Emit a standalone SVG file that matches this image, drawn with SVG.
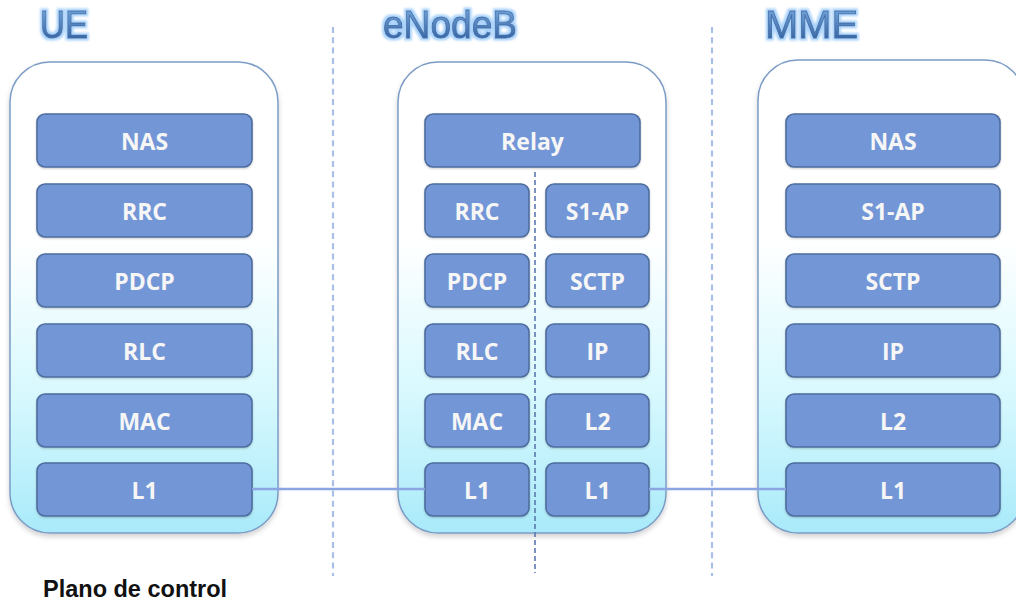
<svg xmlns="http://www.w3.org/2000/svg" width="1016" height="601" viewBox="0 0 1016 601">
<defs>
<linearGradient id="cont" x1="0" y1="0" x2="0" y2="1">
<stop offset="0" stop-color="#ffffff"/>
<stop offset="0.38" stop-color="#ffffff"/>
<stop offset="0.7" stop-color="#d8f9fe"/>
<stop offset="1" stop-color="#a9eafa"/>
</linearGradient>
<linearGradient id="title" x1="0" y1="0" x2="0" y2="1">
<stop offset="0" stop-color="#7eaee2"/>
<stop offset="1" stop-color="#2b5897"/>
</linearGradient>
<filter id="sh" x="-10%" y="-10%" width="120%" height="120%">
<feDropShadow dx="0" dy="3" stdDeviation="2.5" flood-color="#000" flood-opacity="0.18"/>
</filter>
<filter id="bsh" x="-10%" y="-20%" width="120%" height="140%">
<feDropShadow dx="0" dy="1" stdDeviation="1" flood-color="#000" flood-opacity="0.2"/>
</filter>
<filter id="glow" x="-20%" y="-20%" width="140%" height="140%">
<feMorphology in="SourceAlpha" operator="dilate" radius="2" result="d"/>
<feGaussianBlur in="d" stdDeviation="1.2" result="b"/>
<feFlood flood-color="#a9d2fa"/>
<feComposite in2="b" operator="in" result="g"/>
<feMerge><feMergeNode in="g"/><feMergeNode in="SourceGraphic"/></feMerge>
</filter>
</defs>
<style>
.cont{fill:url(#cont);stroke:#7c9cc6;stroke-width:1.5;filter:url(#sh)}
.box{fill:#7396d6;stroke:#4e6d9e;stroke-width:1.6;filter:url(#bsh)}
.bt{font-family:"Open Sans","Noto Sans",sans-serif;font-weight:700;font-size:23px;fill:#f6f6f6;text-anchor:middle}
.ttl{font-family:"Liberation Sans",Arial,sans-serif;font-size:38px;fill:url(#title);stroke:#3f6eaa;stroke-width:0.8;filter:url(#glow)}
.sep{stroke:#a9bfea;stroke-width:2.2;stroke-dasharray:6 4.3;fill:none}
.isep{stroke:#5a78ae;stroke-width:1.6;stroke-dasharray:5 3;fill:none}
.conn{stroke:#8ba4e2;stroke-width:2.5;fill:none}
.cap{font-family:"Liberation Sans",Arial,sans-serif;font-weight:700;font-size:23.5px;fill:#111}
</style>

<g id="separators">
<line class="sep" x1="333" y1="27" x2="333" y2="576"/>
<line class="sep" x1="712" y1="27" x2="712" y2="576"/>
</g>

<g id="titles">
<text class="ttl" x="40" y="38" textLength="48" lengthAdjust="spacingAndGlyphs">UE</text>
<text class="ttl" x="383" y="38" textLength="134" lengthAdjust="spacingAndGlyphs">eNodeB</text>
<text class="ttl" x="765" y="38" textLength="93" lengthAdjust="spacingAndGlyphs">MME</text>
</g>

<g id="ue">
<rect class="cont" x="10" y="62" width="268" height="471" rx="40"/>
<rect class="box" x="37" y="114" width="215" height="53" rx="8"/><text class="bt" x="144.5" y="150">NAS</text>
<rect class="box" x="37" y="184" width="215" height="53" rx="8"/><text class="bt" x="144.5" y="220">RRC</text>
<rect class="box" x="37" y="254" width="215" height="53" rx="8"/><text class="bt" x="144.5" y="290">PDCP</text>
<rect class="box" x="37" y="324" width="215" height="53" rx="8"/><text class="bt" x="144.5" y="360">RLC</text>
<rect class="box" x="37" y="394" width="215" height="53" rx="8"/><text class="bt" x="144.5" y="430">MAC</text>
<rect class="box" x="37" y="463" width="215" height="53" rx="8"/><text class="bt" x="144.5" y="499">L1</text>
</g>

<g id="enodeb">
<rect class="cont" x="398" y="62" width="268" height="471" rx="40"/>
<line class="isep" x1="535" y1="172" x2="535" y2="573"/>
<rect class="box" x="425" y="114" width="215" height="53" rx="8"/><text class="bt" x="532.5" y="150">Relay</text>
<rect class="box" x="425" y="184" width="104" height="53" rx="8"/><text class="bt" x="477" y="220">RRC</text>
<rect class="box" x="546" y="184" width="103" height="53" rx="8"/><text class="bt" x="597.5" y="220">S1-AP</text>
<rect class="box" x="425" y="254" width="104" height="53" rx="8"/><text class="bt" x="477" y="290">PDCP</text>
<rect class="box" x="546" y="254" width="103" height="53" rx="8"/><text class="bt" x="597.5" y="290">SCTP</text>
<rect class="box" x="425" y="324" width="104" height="53" rx="8"/><text class="bt" x="477" y="360">RLC</text>
<rect class="box" x="546" y="324" width="103" height="53" rx="8"/><text class="bt" x="597.5" y="360">IP</text>
<rect class="box" x="425" y="394" width="104" height="53" rx="8"/><text class="bt" x="477" y="430">MAC</text>
<rect class="box" x="546" y="394" width="103" height="53" rx="8"/><text class="bt" x="597.5" y="430">L2</text>
<rect class="box" x="425" y="463" width="104" height="53" rx="8"/><text class="bt" x="477" y="499">L1</text>
<rect class="box" x="546" y="463" width="103" height="53" rx="8"/><text class="bt" x="597.5" y="499">L1</text>
</g>

<g id="mme">
<rect class="cont" x="758" y="60" width="267" height="473" rx="40"/>
<rect class="box" x="786" y="114" width="214" height="53" rx="8"/><text class="bt" x="893" y="150">NAS</text>
<rect class="box" x="786" y="184" width="214" height="53" rx="8"/><text class="bt" x="893" y="220">S1-AP</text>
<rect class="box" x="786" y="254" width="214" height="53" rx="8"/><text class="bt" x="893" y="290">SCTP</text>
<rect class="box" x="786" y="324" width="214" height="53" rx="8"/><text class="bt" x="893" y="360">IP</text>
<rect class="box" x="786" y="394" width="214" height="53" rx="8"/><text class="bt" x="893" y="430">L2</text>
<rect class="box" x="786" y="463" width="214" height="53" rx="8"/><text class="bt" x="893" y="499">L1</text>
</g>

<g id="connectors">
<line class="conn" x1="252" y1="489" x2="425" y2="489"/>
<line class="conn" x1="649" y1="489" x2="786" y2="489"/>
</g>

<text class="cap" x="43" y="597">Plano de control</text>
</svg>
